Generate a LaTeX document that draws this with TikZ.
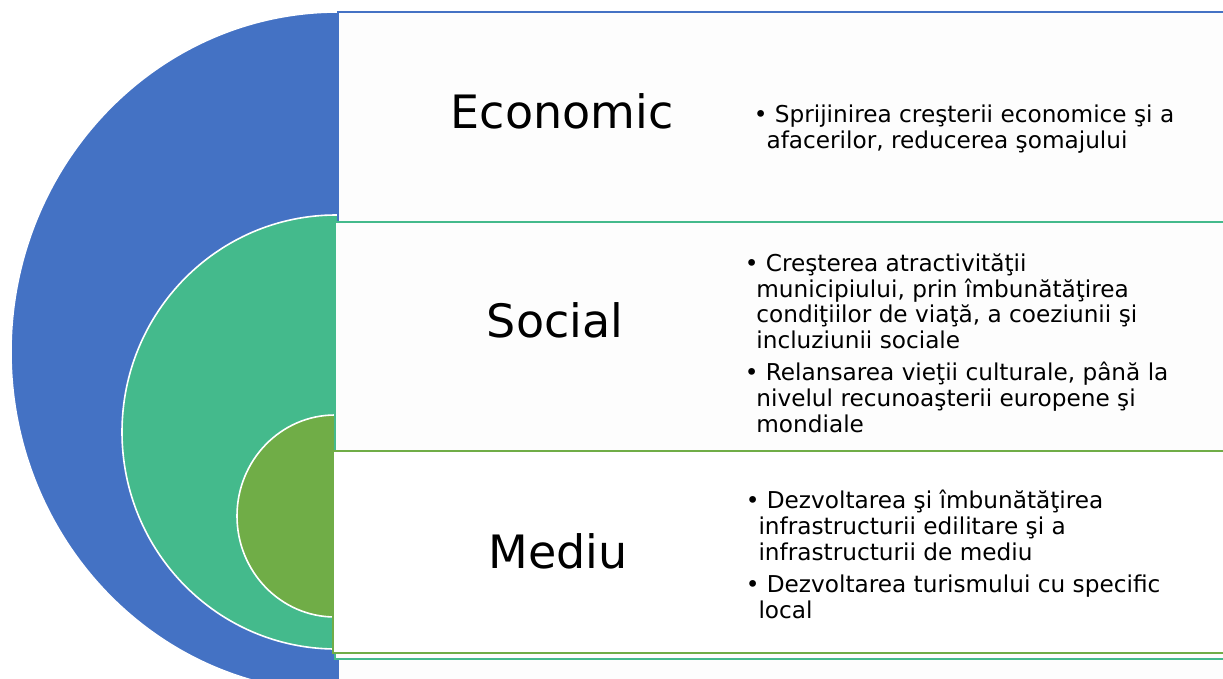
\documentclass[tikz,border=0pt]{standalone}
\usepackage{fontspec}
\setmainfont{DejaVu Sans}
\usepackage{tikz}

\begin{document}
\begin{tikzpicture}[x=0.75pt,y=0.75pt,yscale=-1,xscale=1,
	ring/.style={draw={rgb, 255:red, 255; green, 255; blue, 255}, line width=1.2},
	band/.style={fill={rgb, 255:red, 253; green, 253; blue, 253}, line width=1.5},
	head/.style={anchor=base, inner sep=0.75pt, font={\fontsize{34.5}{40}\selectfont}},
	points/.style={anchor=base west, inner sep=0pt, align=left, font={\fontsize{17.4}{19.3}\selectfont}}]
				\useasboundingbox (0,0) rectangle (1223,678);
				\clip (0,0) rectangle (1223,678);
				
				%Shape: Ellipse [outer]
				\draw [ring, fill={rgb, 255:red, 68; green, 114; blue, 196 }] (338,352) ellipse [x radius=327, y radius=340];
				%Shape: Ellipse [middle]
				\draw [ring, fill={rgb, 255:red, 68; green, 186; blue, 140 }] (336,432) ellipse [x radius=214, y radius=217];
				%Shape: Ellipse [inner]
				\draw [ring, fill={rgb, 255:red, 112; green, 173; blue, 71 }] (335,516) ellipse [x radius=98, y radius=101];
				
				%Shape: Rectangle [economic]
				\draw [band, draw={rgb, 255:red, 68; green, 114; blue, 196 }] (338,12) rectangle (1240,700);
				%Shape: Rectangle [social]
				\draw [band, draw={rgb, 255:red, 68; green, 186; blue, 140 }] (335,222) rectangle (1240,659);
				%Shape: Rectangle [mediu]
				\draw [band, fill=white, draw={rgb, 255:red, 112; green, 173; blue, 71 }] (333,451) rectangle (1240,653);
				
				% Text Node
				\node [head] (econ) at (562,128) {Economic};
				\node [head] (soc) at (555,337) {Social};
				\node [head] (med) at (558,568) {Mediu};
				
				% Text Node (anchored at the baseline of the last line)
				\node [points] (econtxt) at (753.5,148) {• Sprijinirea creşterii economice şi a\\\hspace*{0.55em}afacerilor, reducerea şomajului};
				\node [points] (soctxt) at (744.5,432) {• Creşterea atractivităţii\\\hspace*{0.5em}municipiului, prin îmbunătăţirea\\\hspace*{0.5em}condiţiilor de viaţă, a coeziunii şi\\\hspace*{0.5em}incluziunii sociale\\[4.7pt]• Relansarea vieţii culturale, până la\\\hspace*{0.5em}nivelul recunoaşterii europene şi\\\hspace*{0.5em}mondiale};
				\node [points] (medtxt) at (745.5,618) {• Dezvoltarea şi îmbunătăţirea\\\hspace*{0.55em}infrastructurii edilitare şi a\\\hspace*{0.55em}infrastructurii de mediu\\[4.7pt]• Dezvoltarea turismului cu specific\\\hspace*{0.55em}local};
				
\end{tikzpicture}
\end{document}
